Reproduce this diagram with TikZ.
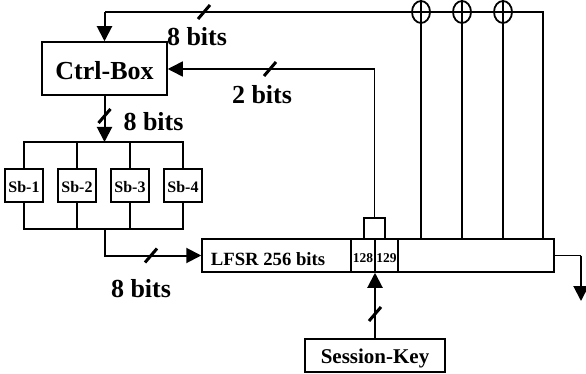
\documentclass[tikz,border=0pt]{standalone}
\usepackage{fontspec}
\setmainfont{Liberation Serif}
\usetikzlibrary{arrows.meta,shapes.geometric}
\newcommand{\lowertext}[2]{\raisebox{-#1pt}[\height][\depth]{#2}}
\tikzset{
    box/.style = {draw, line width=1.5pt, inner sep=0pt, font=\bfseries},
    lbl/.style = {inner sep=0pt, font=\fontsize{26}{28}\selectfont\bfseries},
    conn/.style = {line width=1.5pt},
    tip/.style = {-{Triangle[length=15pt,width=15pt]}},
    bigconn/.style = {line width=2pt, tip},
    tick/.style = {line width=3pt}
}
\begin{document}
\begin{tikzpicture}[x=1pt, y=-1pt]
    \useasboundingbox (0, 0) rectangle (586, 374);
    % boxes
    \node[box, minimum width=125pt, minimum height=53pt, font=\fontsize{26}{28}\selectfont\bfseries] (ctrl) at (104.5, 68.5) {\lowertext{2}{Ctrl-Box}};
    \foreach \i/\x in {1/24, 2/77, 3/130, 4/183}
        \node[box, minimum width=38pt, minimum height=33pt, font=\fontsize{16}{18}\selectfont\bfseries] (sb\i) at (\x, 185.5) {\lowertext{1.5}{Sb-\i}};
    \node[box, minimum width=352pt, minimum height=33pt] (lfsr) at (378, 255.5) {};
    \node[lbl, font=\fontsize{18.7}{20}\selectfont\bfseries] (lfsrtext) at (268, 259) {LFSR 256 bits};
    \node[box, minimum width=24pt, minimum height=33pt, font=\fontsize{13.5}{15}\selectfont\bfseries] (c128) at (363, 255.5) {\lowertext{3}{128}};
    \node[box, minimum width=23pt, minimum height=33pt, font=\fontsize{13.5}{15}\selectfont\bfseries] (c129) at (386.5, 255.5) {\lowertext{3}{129}};
    \node[box, minimum width=140pt, minimum height=33pt, font=\fontsize{21}{23}\selectfont\bfseries] (key) at (375, 355.5) {\lowertext{3}{Session-Key}};
    \node[box, minimum width=21pt, minimum height=21pt] (tap) at (374.5, 228.5) {};
    % xor gates
    \foreach \i/\x in {1/421, 2/462, 3/503} {
        \node[draw, ellipse, line width=1.8pt, minimum width=18pt, minimum height=22pt, inner sep=0pt] (xor\i) at (\x, 12) {};
        \draw[conn] (xor\i.north) -- (xor\i.south);
        \draw[conn] (xor\i.south) -- (\x, 239);
    }
    % feedback
    \coordinate (topr) at (543, 12);
    \coordinate (topl) at (104.5, 12);
    \draw[conn] (543, 239) -- (topr) -- (topl);
    \draw[bigconn] (topl) -- (ctrl.north);
    \coordinate (tapc) at (374.5, 69);
    \draw[conn] (tap.north) -- (tapc);
    \draw[conn, tip] (tapc) -- (ctrl.east |- tapc);
    % s-boxes
    \coordinate (busin) at (104.5, 142);
    \draw[bigconn] (ctrl.south) -- (busin);
    \draw[conn] (sb1.north) |- (sb4.north |- busin) -- (sb4.north);
    \draw[conn] (sb2.north) -- (sb2.north |- busin);
    \draw[conn] (sb3.north) -- (sb3.north |- busin);
    \coordinate (busout) at (104.5, 229);
    \draw[conn] (sb1.south) |- (sb4.south |- busout) -- (sb4.south);
    \draw[conn] (sb2.south) -- (sb2.south |- busout);
    \draw[conn] (sb3.south) -- (sb3.south |- busout);
    \coordinate (feed) at (104.5, 255.5);
    \draw[bigconn] (busout) -- (feed) -- (lfsr.west);
    % key and output
    \draw[bigconn] (key.north) -- (key.north |- lfsr.south);
    \coordinate (outc) at (581, 255.5);
    \coordinate (oute) at (581, 301);
    \draw[conn] (lfsr.east) -- (outc);
    \draw[bigconn] (outc) -- (oute);
    % ticks
    \foreach \x/\y in {204/12, 270/69, 104.5/116, 151/255.5, 375/314}
        \draw[tick] (\x-6, \y+7) -- (\x+6, \y-7);
    % labels
    \node[lbl] (l1) at (197, 37) {8 bits};
    \node[lbl] (l2) at (262, 95) {2 bits};
    \node[lbl] (l3) at (153.5, 122) {8 bits};
    \node[lbl] (l4) at (141, 289) {8 bits};
\end{tikzpicture}
\end{document}
